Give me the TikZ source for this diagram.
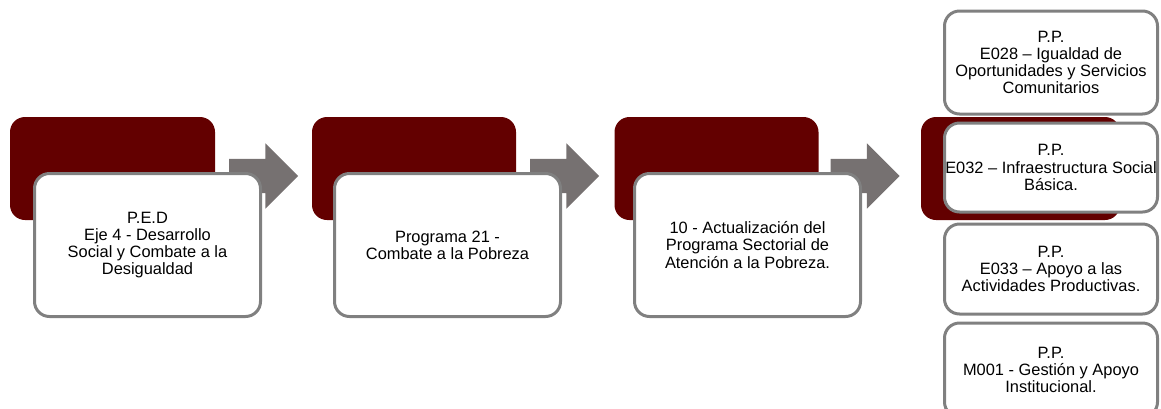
\documentclass[tikz,border=0pt]{standalone}
\usepackage{fontspec}
\setmainfont{Liberation Sans}
\usetikzlibrary{shapes.arrows}
\definecolor{darkred}{RGB}{99,0,0}
\definecolor{agray}{RGB}{118,113,113}
\definecolor{bgray}{RGB}{128,128,128}
\tikzset{
  dbox/.style={fill=darkred, rounded corners=15pt, inner sep=0pt},
  wbox/.style={fill=white, draw=bgray, line width=3pt, rounded corners=15pt,
    align=center, inner sep=0pt, text=black, font=\fontsize{16.4pt}{17.2pt}\selectfont},
  garrow/.style={single arrow, fill=agray, inner xsep=0pt, inner ysep=17pt,
    single arrow head extend=15.5pt, minimum height=69pt}
}
\begin{document}
\begin{tikzpicture}[x=1pt,y=-1pt]
\useasboundingbox (0,0) rectangle (1161,408);
\clip (0,0) rectangle (1161,408);
% dark back boxes
\node[dbox, minimum width=205pt, minimum height=103pt] (d1) at (112.5,168.5) {};
\node[dbox, minimum width=204pt, minimum height=103pt] (d2) at (414,168.5) {};
\node[dbox, minimum width=204pt, minimum height=103pt] (d3) at (716.5,168.5) {};
\node[dbox, minimum width=199pt, minimum height=103pt] (d4) at (1020.5,168.5) {};
% arrows
\node[garrow] (a1) at (255,176) {};
\node[garrow] (a2) at (556,176) {};
\node[garrow] (a3) at (856.5,176) {};
% white front boxes
\node[wbox, minimum width=226pt, minimum height=143pt] (w1) at (147.5,245)
  {P.E.D\\Eje 4 - Desarrollo\\Social y Combate a la\\Desigualdad};
\node[wbox, minimum width=226pt, minimum height=143pt] (w2) at (447.5,245)
  {Programa 21 -\\Combate a la Pobreza};
\node[wbox, minimum width=226pt, minimum height=143pt] (w3) at (747.5,245)
  {10 - Actualización del\\Programa Sectorial de\\Atención a la Pobreza.};
% right stack
\node[wbox, minimum width=213pt, minimum height=103pt] (r1) at (1051,62.5)
  {P.P.\\E028 – Igualdad de\\Oportunidades y Servicios\\Comunitarios};
\node[wbox, minimum width=213pt, minimum height=89pt] (r2) at (1051,167.5)
  {P.P.\\E032 – Infraestructura Social\\Básica.};
\node[wbox, minimum width=213pt, minimum height=90pt] (r3) at (1051,269)
  {P.P.\\E033 – Apoyo a las\\Actividades Productivas.};
\node[wbox, minimum width=213pt, minimum height=94pt] (r4) at (1051,370)
  {P.P.\\M001 - Gestión y Apoyo\\Institucional.};
\end{tikzpicture}
\end{document}
